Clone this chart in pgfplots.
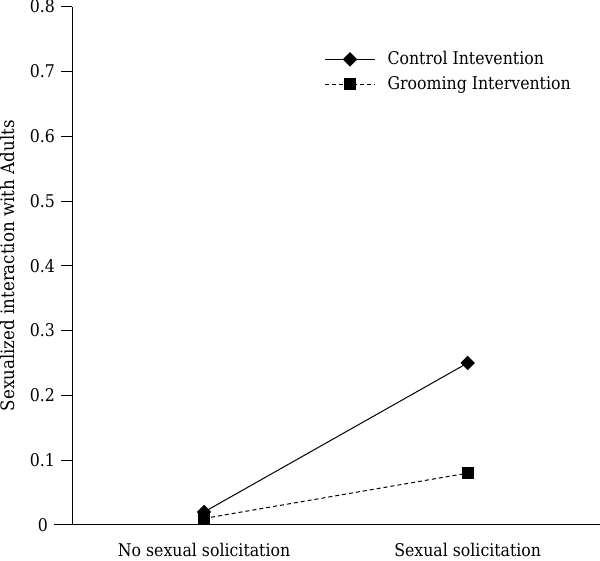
\documentclass[border=0pt]{standalone}
\usepackage{fontspec}
\setmainfont{DejaVu Serif Condensed}
\usepackage{pgfplots}
\pgfplotsset{compat=1.18}
\begin{document}
\fontsize{18}{21}\selectfont
\begin{tikzpicture}
\begin{axis}[
  scale only axis,
  width=527pt, height=518pt,
  xmin=-0.5, xmax=1.5,
  ymin=0, ymax=0.8,
  axis x line=bottom, axis y line=left,
  axis line style={-, line width=0.9pt},
  xtick={0,1},
  xticklabels={No sexual solicitation, Sexual solicitation},
  x tick style={draw=none},
  xticklabel style={inner ysep=3.5pt, yshift=-3.5pt, font=\fontsize{17.5}{21}\selectfont},
  ytick={0.1,0.2,0.3,0.4,0.5,0.6,0.7,0.8},
  yticklabel style={inner ysep=0pt, /pgf/number format/fixed, /pgf/number format/precision=1},
  extra y ticks={0},
  extra y tick style={major tick length=18pt, tick style={line width=0.9pt}},
  extra y tick labels={0},
  tick align=outside,
  major tick length=11pt,
  tick style={black, line width=0.9pt},
  /pgf/number format/assume math mode=true,
  ylabel={Sexualized interaction with Adults},
  ylabel style={at={(rel axis cs:0,0.5)}, anchor=center, inner sep=0pt, yshift=65pt, font=\fontsize{18.5}{21}\selectfont},
  tick label style={font=\fontsize{17.5}{21}\selectfont},
  clip=false,
  legend style={draw=none, fill=none, at={(0.478,0.918)}, anchor=north west,
    font=\fontsize{17.5}{21}\selectfont, row sep=5pt, inner sep=0pt,
    /tikz/every odd column/.append style={column sep=10pt}},
  legend cell align=left,
  legend image code/.code={\draw[#1, mark=none] (0pt,0pt) -- (50pt,0pt);
     \path[#1, only marks] plot coordinates {(25pt,0pt)};},
]
\addplot[black, line width=1pt, mark=diamond*, mark size=6.5pt, mark options={solid, xscale=1.33}] coordinates {(0,0.02) (1,0.25)};
\addlegendentry{Control Intevention}
\addplot[black, line width=1pt, dash pattern=on 4pt off 3pt, mark=square*, mark size=5.5pt, mark options={solid}] coordinates {(0,0.01) (1,0.08)};
\addlegendentry{Grooming Intervention}
\end{axis}
\end{tikzpicture}
\end{document}
